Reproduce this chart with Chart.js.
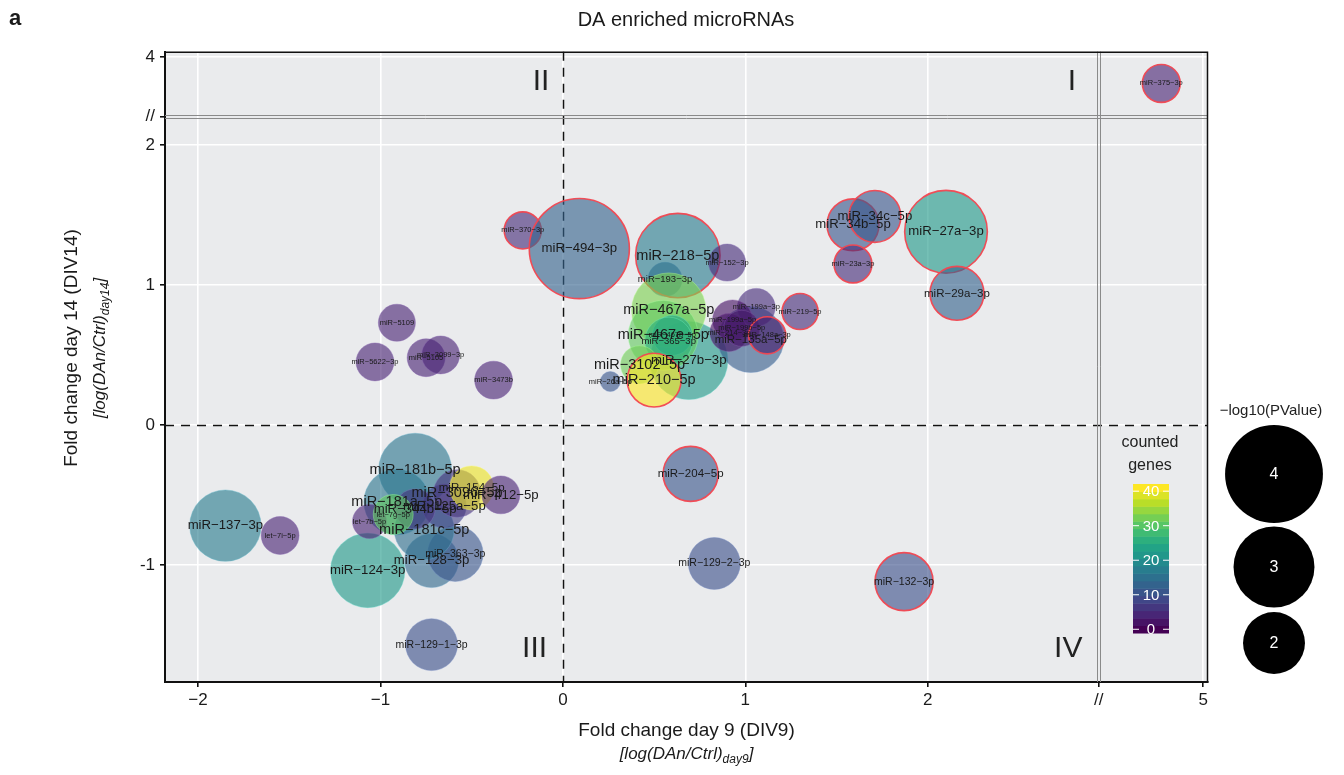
<!DOCTYPE html>
<html>
<head>
<meta charset="utf-8">
<script src="https://cdn.jsdelivr.net/npm/chart.js@4.4.1/dist/chart.umd.min.js"></script>
<style>
  html, body { margin: 0; background: #fff; }
  canvas { display: block; }
</style>
</head>
<body>
<canvas id="miChart" width="1344" height="775"></canvas>
<script>
// ---- data ----
const mirs = [
  'miR−34b−5p', 'miR−34c−5p', 'miR−27a−3p', 'miR−23a−3p', 'miR−29a−3p', 'miR−219−5p',
  'miR−375−3p', 'miR−370−3p', 'miR−494−3p', 'miR−193−3p', 'miR−218−5p', 'miR−152−3p',
  'miR−27b−3p', 'miR−467a−5p', 'miR−467e−5p', 'miR−467b−5p', 'miR−365−3p', 'miR−3102−5p',
  'miR−210−5p', 'miR−26a−5p', 'miR−3473b', 'miR−5109', 'miR−5622−3p', 'miR−5105',
  'miR−3099−3p', 'miR−135a−5p', 'miR−199a−3p', 'miR−199a−5p', 'miR−214−3p', 'miR−199b−5p',
  'miR−148a−3p', 'miR−204−5p', 'miR−129−2−3p', 'miR−132−3p', 'miR−137−3p', 'let−7i−5p',
  'miR−124−3p', 'miR−129−1−3p', 'miR−181b−5p', 'miR−181a−5p', 'miR−128−3p', 'miR−363−3p',
  'miR−181c−5p', 'let−7b−5p', 'miR−125a−5p', 'miR−3096−5p', 'miR−154−5p', 'miR−412−5p',
  'miR−344b−5p', 'let−7g−5p'
];
const fcDay9 = [
  1.59, 1.71, 2.10, 1.59, 2.16, 1.30,
  4.77, -0.22, 0.09, 0.56, 0.63, 0.90,
  0.69, 0.58, 0.55, 0.60, 0.58, 0.42,
  0.50, 0.26, -0.38, -0.91, -1.03, -0.75,
  -0.67, 1.03, 1.06, 0.93, 0.91, 0.98,
  1.12, 0.70, 0.83, 1.87, -1.85, -1.55,
  -1.07, -0.72, -0.81, -0.91, -0.72, -0.59,
  -0.76, -1.06, -0.65, -0.58, -0.50, -0.34,
  -0.81, -0.93
];
const fcDay14 = [
  1.43, 1.49, 1.38, 1.15, 0.94, 0.81,
  3.81, 1.39, 1.26, 1.04, 1.21, 1.16,
  0.46, 0.82, 0.64, 0.64, 0.60, 0.43,
  0.32, 0.31, 0.32, 0.73, 0.45, 0.48,
  0.50, 0.61, 0.84, 0.75, 0.66, 0.69,
  0.64, -0.35, -0.99, -1.12, -0.72, -0.79,
  -1.04, -1.57, -0.32, -0.55, -0.97, -0.92,
  -0.75, -0.69, -0.58, -0.49, -0.45, -0.50,
  -0.60, -0.64
];
const countedGenes = [
  11, 11, 22, 5, 13, 5,
  4, 5, 13, 12, 17, 5,
  22, 33, 31, 24, 26, 32,
  41, 11, 4, 4, 4, 4,
  4, 12, 5, 2, 2, 3,
  3, 11, 10, 10, 17, 4,
  22, 10, 16, 16, 14, 11,
  15, 4, 8, 6, 40, 4,
  6, 31
];
const negLog10P = [
  1.53, 1.53, 3.10, 0.95, 1.62, 0.88,
  0.95, 0.92, 4.14, 0.81, 3.20, 0.92,
  2.84, 2.64, 2.40, 1.03, 1.34, 0.95,
  1.62, 0.36, 0.95, 0.92, 0.95, 0.95,
  0.95, 2.20, 0.95, 1.03, 0.95, 0.88,
  0.92, 1.67, 1.53, 1.81, 2.48, 0.95,
  2.64, 1.53, 2.56, 2.20, 1.62, 1.70,
  1.90, 0.81, 1.19, 1.34, 1.19, 0.95,
  1.03, 1.03
];
// significant on both days -> red outline
const bothDays = [
  1, 1, 1, 1, 1, 1,
  1, 1, 1, 0, 1, 0,
  0, 0, 0, 0, 0, 0,
  1, 0, 0, 0, 0, 0,
  0, 0, 0, 0, 0, 0,
  1, 1, 0, 1, 0, 0,
  0, 0, 0, 0, 0, 0,
  0, 0, 0, 0, 0, 0,
  0, 0
];
// binned label size class (1 = small ... 6 = large)
const labelClass = [
  5, 5, 5, 1, 4, 1,
  1, 1, 5, 2, 6, 1,
  5, 6, 6, 1, 2, 6,
  6, 1, 1, 1, 1, 1,
  1, 4, 1, 1, 1, 1,
  1, 4, 3, 3, 5, 1,
  5, 3, 6, 6, 5, 3,
  6, 1, 5, 6, 4, 5,
  5, 1
];

const xTickValues = [-2, -1, 0, 1, 2, null, 5];
const xTickLabels = ['−2', '−1', '0', '1', '2', '//', '5'];
const yTickValues = [-1, 0, 1, 2, null, 4];
const yTickLabels = ['-1', '0', '1', '2', '//', '4'];
const geneTicks = [0, 10, 20, 30, 40];
const geneMax = 41;
const pLegend = [4, 3, 2];
const quadrants = [
  { t: 'I', x: 2.79, y: 2.45 }, { t: 'II', x: -0.12, y: 2.45 },
  { t: 'III', x: -0.155, y: -1.6 }, { t: 'IV', x: 2.77, y: -1.6 }
];

// broken axes: values beyond the cut are shifted down
const X_CUT = 3, X_SHIFT = 1.49, X_BREAK = 2.937;
const Y_CUT = 3, Y_SHIFT = 1.37, Y_BREAK = 2.205;
const tx = v => v === null ? X_BREAK : (v > X_CUT ? v - X_SHIFT : v);
const ty = v => v === null ? Y_BREAK : (v > Y_CUT ? v - Y_SHIFT : v);

const FONT = '"Liberation Sans", Arial, sans-serif';
const NARROW = '"Liberation Sans Narrow", "Liberation Sans", Arial, sans-serif';

const VIR = [[68,1,84],[72,36,117],[65,68,135],[53,95,141],[42,120,142],[33,145,140],
             [34,168,132],[68,191,112],[122,209,81],[189,223,38],[253,231,37]];
function viridis(t) {
  t = Math.max(0, Math.min(1, t));
  const s = t * (VIR.length - 1);
  const i = Math.min(Math.floor(s), VIR.length - 2), f = s - i;
  return VIR[i].map((a, k) => Math.round(a + (VIR[i + 1][k] - a) * f));
}
const rgba = (c, a) => `rgba(${c[0]},${c[1]},${c[2]},${a})`;
const radius = p => 19.6 * Math.pow(p, 0.66);
const labelPx = [0, 7.5, 9.5, 10.5, 11.5, 13.2, 14.5];

const points = mirs.map((m, i) => ({ x: tx(fcDay9[i]), y: ty(fcDay14[i]), r: radius(negLog10P[i]) }));

const extras = {
  id: 'extras',
  beforeDraw(chart) {
    const { ctx, chartArea: a } = chart;
    ctx.save();
    ctx.fillStyle = '#fff';
    ctx.fillRect(0, 0, chart.width, chart.height);
    ctx.fillStyle = '#eaebed';
    ctx.fillRect(a.left, a.top, a.right - a.left, a.bottom - a.top);
    ctx.restore();
  },
  beforeDatasetsDraw(chart) {
    const { ctx, chartArea: a, scales: { x, y } } = chart;
    ctx.save();
    ctx.strokeStyle = '#111';
    ctx.lineWidth = 1.5;
    ctx.setLineDash([9, 7]);
    const x0 = Math.round(x.getPixelForValue(0)) + 0.5;
    const y0 = Math.round(y.getPixelForValue(0)) + 0.5;
    ctx.beginPath();
    ctx.moveTo(x0, a.top); ctx.lineTo(x0, a.bottom);
    ctx.moveTo(a.left, y0); ctx.lineTo(a.right, y0);
    ctx.stroke();
    ctx.restore();
  },
  afterDatasetsDraw(chart) {
    const { ctx, scales: { x, y } } = chart;
    ctx.save();
    ctx.textAlign = 'center';
    ctx.textBaseline = 'middle';
    ctx.fillStyle = '#1a1a1a';
    mirs.forEach((m, i) => {
      ctx.font = `${labelPx[labelClass[i]]}px ${FONT}`;
      ctx.fillText(m, x.getPixelForValue(points[i].x), y.getPixelForValue(points[i].y));
    });
    ctx.restore();
  },
  afterDraw(chart) {
    const { ctx, chartArea: a, scales: { x, y } } = chart;
    ctx.save();
    // break marks
    ctx.strokeStyle = '#8a8a8a';
    ctx.lineWidth = 1;
    const bx = x.getPixelForValue(X_BREAK), by = y.getPixelForValue(Y_BREAK);
    ctx.beginPath();
    [-1.5, 1.5].forEach(d => {
      ctx.moveTo(Math.round(bx + d) + 0.5, a.top); ctx.lineTo(Math.round(bx + d) + 0.5, a.bottom);
      ctx.moveTo(a.left, Math.round(by + d) + 0.5); ctx.lineTo(a.right, Math.round(by + d) + 0.5);
    });
    ctx.stroke();
    // top / right frame
    ctx.strokeStyle = '#111';
    ctx.lineWidth = 1.5;
    ctx.beginPath();
    ctx.moveTo(a.left, a.top + 0.5); ctx.lineTo(a.right - 0.5, a.top + 0.5); ctx.lineTo(a.right - 0.5, a.bottom);
    ctx.stroke();

    // quadrant numerals
    ctx.fillStyle = '#222';
    ctx.textAlign = 'center';
    ctx.textBaseline = 'middle';
    ctx.font = `30px ${FONT}`;
    quadrants.forEach(q => ctx.fillText(q.t, x.getPixelForValue(q.x), y.getPixelForValue(q.y)));

    // colour bar
    const cbL = 1133, cbR = 1169, cbT = 484, cbB = 633, nbin = 20, bh = (cbB - cbT) / nbin;
    for (let i = 0; i < nbin; i++) {
      ctx.fillStyle = rgba(viridis(i / (nbin - 1)), 1);
      ctx.fillRect(cbL, cbB - (i + 1) * bh, cbR - cbL, bh + 0.5);
    }
    ctx.strokeStyle = '#fff';
    ctx.lineWidth = 1;
    ctx.fillStyle = '#fff';
    ctx.font = `15px ${FONT}`;
    geneTicks.forEach(g => {
      const py = cbB - bh / 2 - (g / geneMax) * (cbB - cbT - bh);
      ctx.beginPath();
      ctx.moveTo(cbL, py); ctx.lineTo(cbL + 6, py);
      ctx.moveTo(cbR - 6, py); ctx.lineTo(cbR, py);
      ctx.stroke();
      ctx.fillText(String(g), (cbL + cbR) / 2, py + 1);
    });
    ctx.fillStyle = '#222';
    ctx.font = `16px ${FONT}`;
    ctx.fillText('counted', 1150, 443);
    ctx.fillText('genes', 1150, 466);

    // size legend
    ctx.font = `15px ${FONT}`;
    ctx.fillText('−log10(PValue)', 1271, 411);
    const cy = [474, 567, 643];
    pLegend.forEach((p, i) => {
      ctx.fillStyle = '#000';
      ctx.beginPath();
      ctx.arc(1274, cy[i], radius(p), 0, Math.PI * 2);
      ctx.fill();
      ctx.fillStyle = '#fff';
      ctx.font = `16px ${FONT}`;
      ctx.fillText(String(p), 1274, cy[i] + 1);
    });

    // titles
    ctx.fillStyle = '#1a1a1a';
    ctx.font = `20px ${FONT}`;
    ctx.fillText('DA enriched microRNAs', 686, 20);
    ctx.font = `bold 22px ${FONT}`;
    ctx.textAlign = 'left';
    ctx.fillText('a', 9, 19);

    const cx = (a.left + a.right) / 2;
    ctx.textAlign = 'center';
    ctx.font = `19px ${FONT}`;
    ctx.fillText('Fold change day 9 (DIV9)', cx, 731);
    drawSub(ctx, cx, 754, 'day9');

    ctx.translate(72, 348);
    ctx.rotate(-Math.PI / 2);
    ctx.font = `19px ${FONT}`;
    ctx.fillText('Fold change day 14 (DIV14)', 0, 0);
    drawSub(ctx, 0, 28, 'day14');
    ctx.restore();
  }
};

function drawSub(ctx, cx, cy, sub) {
  const main = '[log(DAn/Ctrl)', end = ']';
  const f1 = `italic 17px ${NARROW}`, f2 = `italic 12px ${NARROW}`;
  ctx.font = f1; const w1 = ctx.measureText(main).width, w3 = ctx.measureText(end).width;
  ctx.font = f2; const w2 = ctx.measureText(sub).width;
  let sx = cx - (w1 + w2 + w3) / 2;
  ctx.save();
  ctx.textAlign = 'left';
  ctx.textBaseline = 'middle';
  ctx.font = f1; ctx.fillText(main, sx, cy); sx += w1;
  ctx.font = f2; ctx.fillText(sub, sx, cy + 6); sx += w2;
  ctx.font = f1; ctx.fillText(end, sx, cy);
  ctx.restore();
}

const tickFont = { family: FONT, size: 17 };

new Chart(document.getElementById('miChart').getContext('2d'), {
  type: 'bubble',
  data: {
    datasets: [{
      data: points,
      backgroundColor: countedGenes.map(g => rgba(viridis(g / geneMax), 0.62)),
      borderColor: bothDays.map((b, i) => b ? 'rgba(242,70,80,0.95)' : rgba(viridis(countedGenes[i] / geneMax).map(c => Math.min(255, c + 60)), 0.5)),
      borderWidth: bothDays.map(b => b ? 1.6 : 0.8),
      hoverRadius: 0,
      clip: false
    }]
  },
  options: {
    responsive: false,
    animation: false,
    events: [],
    layout: { padding: { left: 0, right: 136, top: 47, bottom: 0 } },
    plugins: { legend: { display: false }, tooltip: { enabled: false }, title: { display: false } },
    scales: {
      x: {
        type: 'linear', min: -2.181, max: 3.536,
        afterBuildTicks: s => { s.ticks = xTickValues.map(v => ({ value: tx(v) })); },
        afterFit: s => { s.height = 93; },
        ticks: { autoSkip: false, maxRotation: 0, padding: 3, color: '#1a1a1a', font: tickFont,
                 callback: (v, i) => xTickLabels[i] },
        grid: { color: c => (c.tick && xTickLabels[c.index] === '//') ? 'rgba(0,0,0,0)' : '#fff',
                lineWidth: 1.6, tickColor: '#111', tickLength: 5 },
        border: { color: '#111', width: 2 }
      },
      y: {
        type: 'linear', min: -1.837, max: 2.667,
        afterBuildTicks: s => { s.ticks = yTickValues.map(v => ({ value: ty(v) })); },
        afterFit: s => { s.width = 165; },
        ticks: { autoSkip: false, padding: 5, color: '#1a1a1a', font: tickFont,
                 callback: (v, i) => yTickLabels[i] },
        grid: { color: c => (c.tick && yTickLabels[c.index] === '//') ? 'rgba(0,0,0,0)' : '#fff',
                lineWidth: 1.6, tickColor: '#111', tickLength: 5 },
        border: { color: '#111', width: 2 }
      }
    }
  },
  plugins: [extras]
});
</script>
</body>
</html>
